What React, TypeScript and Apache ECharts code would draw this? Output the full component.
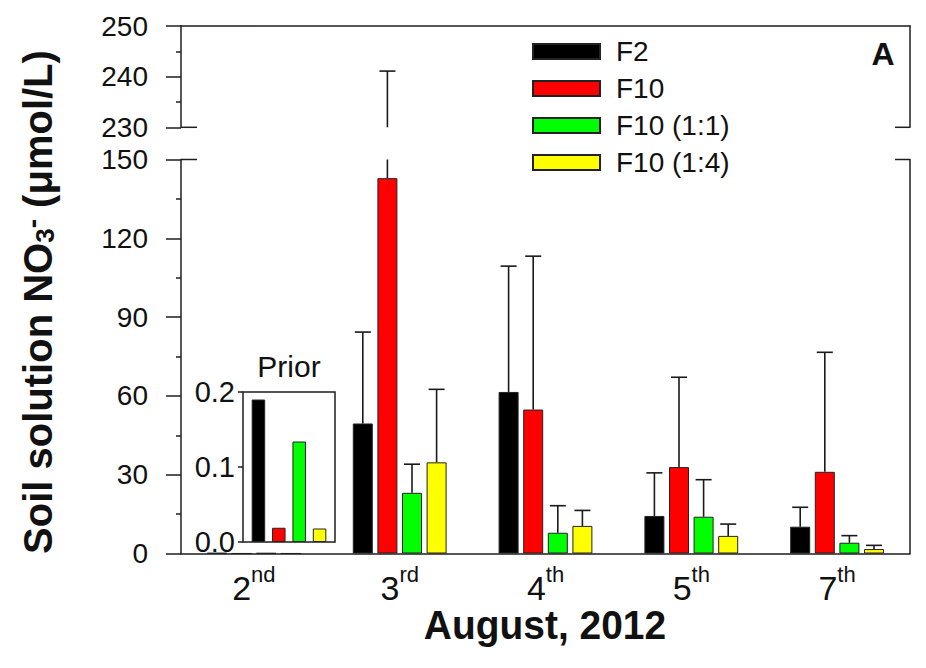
import React, { useEffect, useRef } from 'react';
import * as echarts from 'echarts';

const categoryNumbers = ['2', '3', '4', '5', '7'];
const categorySuffixes = ['nd', 'rd', 'th', 'th', 'th'];
const categories = ['2nd', '3rd', '4th', '5th', '7th'];
const seriesNames = ['F2', 'F10', 'F10 (1:1)', 'F10 (1:4)'];
const seriesColors = ['#000000', '#ff0000', '#00ff00', '#ffff00'];

const meanF2 = [0.19, 49.5, 61.5, 14.3, 10.2];
const meanF10 = [0.02, 142.9, 54.8, 32.9, 31.1];
const meanF10_11 = [0.13, 23.1, 7.9, 14.0, 4.1];
const meanF10_14 = [0.02, 34.7, 10.5, 6.7, 1.7];

const errF2 = [0, 34.8, 47.9, 16.4, 7.4];
const errF10 = [0, 98.2, 58.4, 34.2, 45.5];
const errF10_11 = [0, 10.9, 10.3, 14.1, 2.7];
const errF10_14 = [0, 27.8, 5.9, 4.5, 1.4];

const priorCategory = ['Prior'];
const priorValues = [0.19, 0.019, 0.134, 0.018];

const lowerMin = 0, lowerMax = 150, lowerInterval = 30;
const upperMin = 230, upperMax = 250, upperInterval = 10;
const priorMin = 0, priorMax = 0.2, priorInterval = 0.1;

const means = [meanF2, meanF10, meanF10_11, meanF10_14];
const errs = [errF2, errF10, errF10_11, errF10_14];

const FONT = '"Liberation Sans", Arial, sans-serif';
const AX = '#1e1e1e';

const GL = 181, GRX = 910;
const UP_TOP = 26, UP_BOT = 127.3;
const LO_TOP = 159.5, LO_BOT = 553.5;
const BAR_W = 20, BAR_GAP = 0.23;

export default function App() {
  const ref = useRef<HTMLDivElement>(null);
  useEffect(() => {
    if (!ref.current) return;
    const chart = echarts.init(ref.current, null, { renderer: 'svg' });
    const step = BAR_W * (1 + BAR_GAP);
    const errRender = (k: number, lo: number, hi: number) => (params: any, api: any) => {
      const idx = api.value(0);
      const mean = api.value(1);
      const err = api.value(2);
      if (!(err > 0)) return null;
      const top = mean + err;
      const a = Math.max(mean, lo);
      const b = Math.min(top, hi);
      if (b <= a) return null;
      const pa = api.coord([idx, a]);
      const pb = api.coord([idx, b]);
      const x = pa[0] + (k - 1.5) * step;
      const st = { stroke: '#1a1a1a', lineWidth: 1.6 };
      const children: any[] = [
        { type: 'line', shape: { x1: x, y1: pa[1], x2: x, y2: pb[1] }, style: st },
      ];
      if (top <= hi) {
        children.push({ type: 'line', shape: { x1: x - 8, y1: pb[1], x2: x + 8, y2: pb[1] }, style: st });
      }
      return { type: 'group', children };
    };

    const barSeries = seriesNames.map((name, k) => ({
      type: 'bar',
      name,
      xAxisIndex: 1,
      yAxisIndex: 1,
      data: means[k],
      barWidth: BAR_W,
      barGap: `${BAR_GAP * 100}%`,
      itemStyle: { color: seriesColors[k], borderColor: '#222', borderWidth: 1 },
      z: 2,
    }));
    const errLower = seriesNames.map((name, k) => ({
      type: 'custom',
      name: 'err-lower-' + name,
      xAxisIndex: 1,
      yAxisIndex: 1,
      encode: { x: 0, y: 1 },
      data: categories.map((_, i) => [i, means[k][i], errs[k][i]]),
      renderItem: errRender(k, lowerMin, lowerMax),
      z: 3,
    }));
    const errUpper = seriesNames.map((name, k) => ({
      type: 'custom',
      name: 'err-upper-' + name,
      xAxisIndex: 0,
      yAxisIndex: 0,
      encode: { x: 0, y: 1 },
      data: categories.map((_, i) => [i, means[k][i], errs[k][i]]),
      renderItem: errRender(k, upperMin, upperMax),
      z: 3,
    }));
    const priorSeries = seriesNames.map((name, k) => ({
      type: 'bar',
      name: 'prior-' + name,
      xAxisIndex: 2,
      yAxisIndex: 4,
      data: [priorValues[k]],
      barWidth: 13.5,
      barGap: '51%',
      itemStyle: { color: seriesColors[k], borderColor: '#222', borderWidth: 1 },
      z: 5,
    }));

    const axisLine = { show: true, lineStyle: { color: AX, width: 1.5 } };
    const yLabel = { fontSize: 28, fontFamily: FONT, color: '#111', margin: 33 };

    const option: any = {
      animation: false,
      backgroundColor: '#ffffff',
      grid: [
        { left: GL, right: 926 - GRX, top: UP_TOP, height: UP_BOT - UP_TOP },
        { left: GL, right: 926 - GRX, top: LO_TOP, height: LO_BOT - LO_TOP },
        { left: 243, top: 392, width: 92, height: 150, show: true, borderColor: AX, borderWidth: 1.5, backgroundColor: '#ffffff', z: 4 },
      ],
      legend: {
        data: seriesNames,
        orient: 'vertical',
        left: 527,
        top: 31.5,
        itemWidth: 67,
        itemHeight: 15,
        itemGap: 7,
        icon: 'rect',
        selectedMode: false,
        textStyle: { fontSize: 28, fontFamily: FONT, color: '#111', lineHeight: 30, padding: [0, 0, 0, 11] },
      },
      xAxis: [
        {
          type: 'category', gridIndex: 0, data: categories, position: 'top',
          axisLine, axisTick: { show: false }, axisLabel: { show: false },
        },
        {
          type: 'category', gridIndex: 1, data: categories, position: 'bottom',
          axisLine, axisTick: { show: false },
          axisLabel: {
            margin: 10,
            formatter: (_v: string, i: number) => `{n|${categoryNumbers[i]}}{s|${categorySuffixes[i]}}`,
            rich: {
              n: { fontSize: 34, fontFamily: FONT, color: '#111', lineHeight: 48 },
              s: { fontSize: 22, fontFamily: FONT, color: '#111', lineHeight: 22, verticalAlign: 'top' },
            },
          },
        },
        {
          type: 'category', gridIndex: 2, data: priorCategory, position: 'top',
          axisLine: { show: false }, axisTick: { show: false }, axisLabel: { show: false },
          name: 'Prior', nameLocation: 'middle', nameGap: 11,
          nameTextStyle: { fontSize: 30, fontFamily: FONT, color: '#111' },
        },
      ],
      yAxis: [
        {
          type: 'value', gridIndex: 0, min: upperMin, max: upperMax, interval: upperInterval,
          axisLine, axisTick: { show: true, length: 15, lineStyle: { color: AX, width: 1.5 } },
          minorTick: { show: true, splitNumber: 2, length: 5, lineStyle: { color: AX, width: 1.5 } },
          axisLabel: yLabel, splitLine: { show: false },
        },
        {
          type: 'value', gridIndex: 1, min: lowerMin, max: lowerMax, interval: lowerInterval,
          axisLine, axisTick: { show: true, length: 15, lineStyle: { color: AX, width: 1.5 } },
          minorTick: { show: true, splitNumber: 2, length: 5, lineStyle: { color: AX, width: 1.5 } },
          axisLabel: yLabel, splitLine: { show: false },
        },
        {
          type: 'value', gridIndex: 0, position: 'right', min: upperMin, max: upperMax,
          axisLine, axisTick: { show: false }, axisLabel: { show: false }, splitLine: { show: false },
        },
        {
          type: 'value', gridIndex: 1, position: 'right', min: lowerMin, max: lowerMax,
          axisLine, axisTick: { show: false }, axisLabel: { show: false }, splitLine: { show: false },
        },
        {
          type: 'value', gridIndex: 2, min: priorMin, max: priorMax, interval: priorInterval,
          axisLine: { show: false },
          axisTick: { show: true, length: 5, lineStyle: { color: AX, width: 1.5 } },
          axisLabel: { fontSize: 29, fontFamily: FONT, color: '#111', margin: 8, formatter: (v: number) => v.toFixed(1) },
          splitLine: { show: false },
        },
      ],
      series: [...barSeries, ...errLower, ...errUpper, ...priorSeries],
      graphic: [
        { type: 'line', shape: { x1: GL, y1: UP_BOT, x2: GL + 16, y2: UP_BOT }, style: { stroke: AX, lineWidth: 1.5 } },
        { type: 'line', shape: { x1: GL, y1: LO_TOP, x2: GL + 16, y2: LO_TOP }, style: { stroke: AX, lineWidth: 1.5 } },
        { type: 'line', shape: { x1: GRX - 15, y1: UP_BOT, x2: GRX, y2: UP_BOT }, style: { stroke: AX, lineWidth: 1.5 } },
        { type: 'line', shape: { x1: GRX - 15, y1: LO_TOP, x2: GRX, y2: LO_TOP }, style: { stroke: AX, lineWidth: 1.5 } },
        {
          type: 'text', x: 883, y: 54,
          style: { text: 'A', font: `bold 32px ${FONT}`, fill: '#111', align: 'center', verticalAlign: 'middle' },
        },
        {
          type: 'text', x: 545, y: 625, scaleX: 0.95,
          style: { text: 'August, 2012', font: `bold 41px ${FONT}`, fill: '#111', align: 'center', verticalAlign: 'middle' },
        },
        {
          type: 'text', x: 38, y: 302, rotation: Math.PI / 2,
          style: {
            text: 'Soil solution NO{sub|3}{sup|-} (μmol/L)',
            font: `bold 40px ${FONT}`,
            fill: '#111',
            align: 'center',
            verticalAlign: 'middle',
            rich: {
              sub: { fontSize: 26, fontWeight: 'bold', fontFamily: FONT, fill: '#111', verticalAlign: 'bottom', lineHeight: 26 },
              sup: { fontSize: 28, fontWeight: 'bold', fontFamily: FONT, fill: '#111', verticalAlign: 'top', lineHeight: 26 },
            },
          },
        },
      ],
    };
    chart.setOption(option);
    return () => chart.dispose();
  }, []);
  return <div ref={ref} style={{ position: 'fixed', left: 0, top: 0, width: 926, height: 668 }} />;
}
